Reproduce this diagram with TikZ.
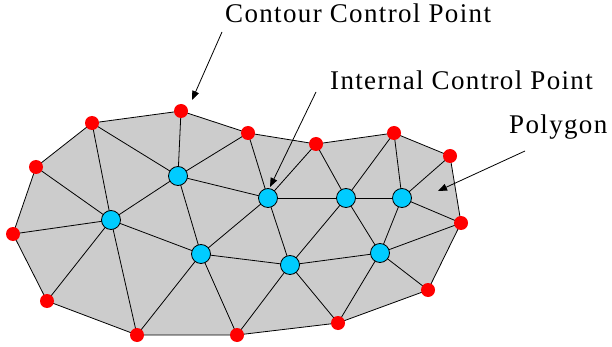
\documentclass[tikz,border=0pt]{standalone}
\usepackage{fontspec}
\setmainfont{Liberation Serif}[LetterSpace=5]
\usetikzlibrary{arrows.meta,backgrounds}

\definecolor{meshgray}{RGB}{204,204,204}
\definecolor{ptred}{RGB}{255,0,0}
\definecolor{ptblue}{RGB}{0,204,255}

\begin{document}
\begin{tikzpicture}[
  x=1pt,
  y=-1pt,
  font=\fontsize{27}{31}\selectfont,
  >={Triangle[length=9pt,width=7pt]},
  contour/.style={circle, fill=ptred, minimum size=14pt, inner sep=0pt},
  inner/.style={circle, draw=black, line width=0.8pt, fill=ptblue, minimum size=19pt, inner sep=0pt},
  edge/.style={line width=0.8pt},
  label/.style={inner sep=0pt, anchor=base west},
  pointer/.style={->, line width=0.8pt}
]
  \useasboundingbox (0,0) rectangle (612,347);

  \node[contour] (c1) at (92,123) {};
  \node[contour] (c2) at (181,111) {};
  \node[contour] (c3) at (248,133) {};
  \node[contour] (c4) at (316,144) {};
  \node[contour] (c5) at (394,133) {};
  \node[contour] (c6) at (450,156) {};
  \node[contour] (c7) at (461,223) {};
  \node[contour] (c8) at (428,290) {};
  \node[contour] (c9) at (338,323) {};
  \node[contour] (c10) at (237,335) {};
  \node[contour] (c11) at (137,335) {};
  \node[contour] (c12) at (47,301) {};
  \node[contour] (c13) at (13,234) {};
  \node[contour] (c14) at (36,167) {};

  \node[inner] (i1) at (178,176) {};
  \node[inner] (i2) at (111,220) {};
  \node[inner] (i3) at (268,198) {};
  \node[inner] (i4) at (201,254) {};
  \node[inner] (i5) at (290,265) {};
  \node[inner] (i6) at (346,198) {};
  \node[inner] (i7) at (402,198) {};
  \node[inner] (i8) at (380,253) {};

  \begin{scope}[on background layer]
    \filldraw[fill=meshgray, edge] (c1.center) -- (c2.center) -- (c3.center) -- (c4.center)
      -- (c5.center) -- (c6.center) -- (c7.center) -- (c8.center) -- (c9.center)
      -- (c10.center) -- (c11.center) -- (c12.center) -- (c13.center) -- (c14.center) -- cycle;
    \foreach \a/\b in {c1/i1, c1/i2, c2/i1, c3/i1, c3/i3, c14/i2, c13/i2, c12/i2, c11/i2,
                       i2/i1, i2/i4, i1/i3, i1/i4, i4/i3, i4/c11, i4/c10, i4/i5, i3/i5,
                       i3/i6, i5/c10, c4/i3, c4/i6, c5/i6, c5/i7, c6/i7, i7/c7, i6/i7,
                       i6/i8, i7/i8, i8/c7, i8/c8, i8/c9, i8/i5, i6/i5, c9/i5}
      \draw[edge] (\a.center) -- (\b.center);
  \end{scope}

  \node[label] (contourlbl) at (225,23) {Contour Control Point};
  \node[label] (internallbl) at (330,90) {Internal Control Point};
  \node[label] (polygonlbl) at (509,134) {Polygon};

  \coordinate (contourfrom) at (222,32);
  \coordinate (contourto) at (192,100);
  \coordinate (internalfrom) at (316,92);
  \coordinate (internalto) at (270,187);
  \coordinate (polygonfrom) at (525,151);
  \coordinate (polygonto) at (438,191);

  \draw[pointer] (contourfrom) -- (contourto);
  \draw[pointer] (internalfrom) -- (internalto);
  \draw[pointer] (polygonfrom) -- (polygonto);
\end{tikzpicture}
\end{document}
